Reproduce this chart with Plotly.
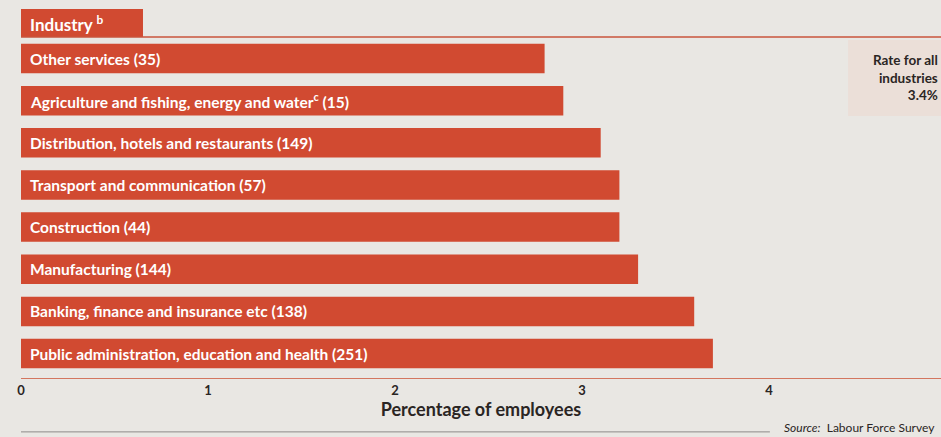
import plotly.graph_objects as go

# Industry groups (sample size in brackets) and the share of employees, per cent
industries = [
    "Other services (35)",
    "Agriculture and fishing, energy and water<sup>c</sup> (15)",
    "Distribution, hotels and restaurants (149)",
    "Transport and communication (57)",
    "Construction (44)",
    "Manufacturing (144)",
    "Banking, finance and insurance etc (138)",
    "Public administration, education and health (251)",
]
rates = [2.8, 2.9, 3.1, 3.2, 3.2, 3.3, 3.6, 3.7]
x_ticks = [0, 1, 2, 3, 4]
all_industries_rate = "3.4%"

BAR = "#d14a31"
BG = "#e9e7e3"
INK = "#2a2523"
FONT = "Lato"

positions = list(range(len(industries)))

fig = go.Figure(
    go.Bar(
        x=rates,
        y=positions,
        orientation="h",
        width=0.7,
        marker=dict(color=BAR, line=dict(width=0)),
        hoverinfo="skip",
    )
)

# labels written inside each bar, from the left end
for pos, label in zip(positions, industries):
    fig.add_annotation(
        x=0, y=pos, xref="x", yref="y",
        text=label, showarrow=False,
        xanchor="left", yanchor="middle", xshift=7,
        font=dict(family=FONT, size=15.5, color="white", weight="bold"),
    )

# "Industry" header tab and the rule under it
fig.add_shape(type="rect", xref="paper", yref="paper",
              x0=0, x1=0.1326, y0=1.0, y1=1.082,
              fillcolor=BAR, line=dict(width=0), layer="below")
fig.add_shape(type="line", xref="paper", yref="paper",
              x0=0, x1=1, y0=1.0, y1=1.0,
              line=dict(color="#c8543d", width=1.5))
fig.add_annotation(
    x=0, y=1.041, xref="paper", yref="paper",
    text="Industry <sup>b</sup>", showarrow=False,
    xanchor="left", yanchor="middle", xshift=7,
    font=dict(family=FONT, size=17, color="white", weight="bold"),
)

# overall rate box
fig.add_shape(type="rect", xref="paper", yref="paper",
              x0=0.899, x1=1.0, y0=0.768, y1=0.991,
              fillcolor="#ebdfd8", line=dict(width=0), layer="below")
fig.add_annotation(
    x=1.0, y=0.88, xref="paper", yref="paper",
    text="Rate for all<br>industries<br>" + all_industries_rate,
    showarrow=False, xanchor="right", yanchor="middle", align="right",
    xshift=-1,
    font=dict(family=FONT, size=13.5, color=INK, weight="bold"),
)

# source line
fig.add_shape(type="line", xref="paper", yref="paper",
              x0=0, x1=0.814, y0=-0.158, y1=-0.158,
              line=dict(color="#8d8a88", width=1))
fig.add_annotation(
    x=0.827, y=-0.145, xref="paper", yref="paper",
    text="<i>Source:</i>  Labour Force Survey", showarrow=False,
    xanchor="left", yanchor="middle",
    font=dict(family=FONT, size=12, color=INK),
)

fig.update_layout(
    width=941, height=437,
    margin=dict(l=21, r=0, t=37, b=59),
    paper_bgcolor=BG, plot_bgcolor=BG,
    showlegend=False,
    bargap=0.3,
    xaxis=dict(
        range=[0, 920 / 187],
        tickvals=x_ticks, ticktext=[str(t) for t in x_ticks],
        showgrid=False, zeroline=False,
        showline=True, linecolor="#d3765f", linewidth=1,
        ticks="", ticklen=0,
        tickfont=dict(family=FONT, size=13, color=INK, weight="bold"),
        title=dict(text="Percentage of employees", standoff=1,
                   font=dict(family=FONT, size=18, color=INK, weight="bold")),
    ),
    yaxis=dict(
        range=[7.58, -0.51],
        showticklabels=False, showgrid=False, zeroline=False,
        showline=False, ticks="",
    ),
)

fig.write_html("out.html")
